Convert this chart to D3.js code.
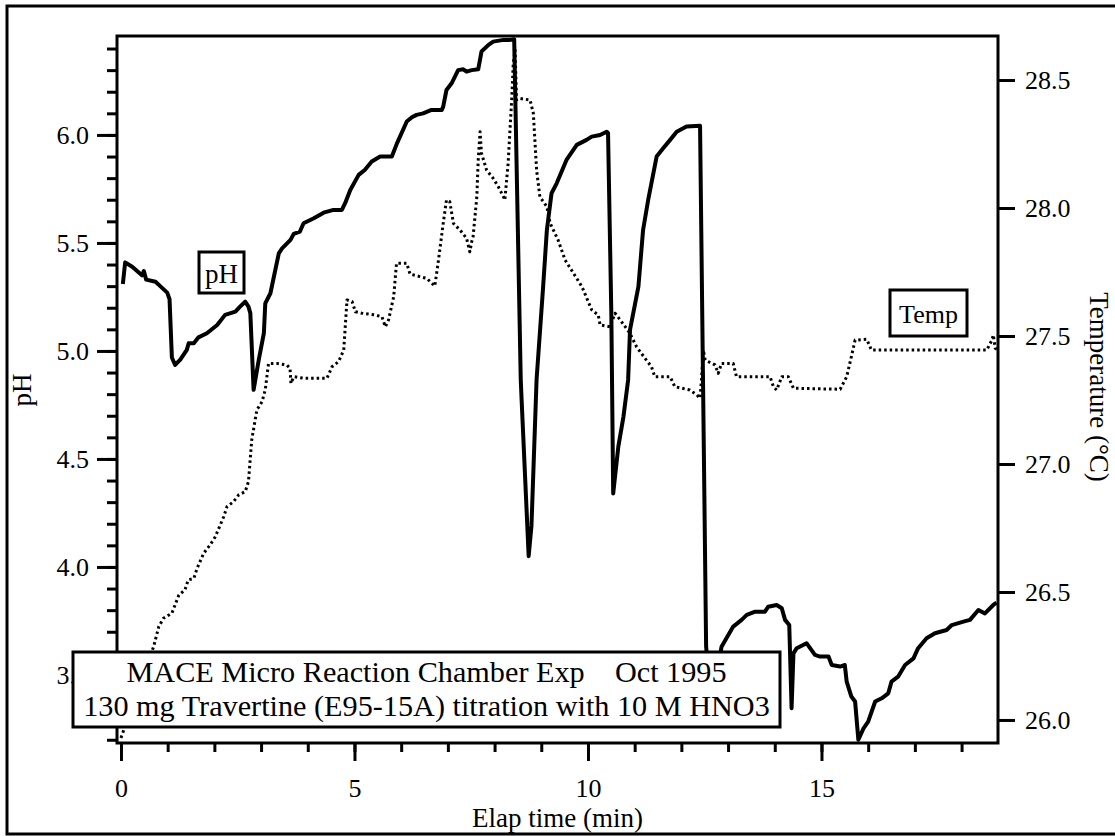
<!DOCTYPE html>
<html>
<head>
<meta charset="utf-8">
<script src="https://cdn.jsdelivr.net/npm/d3@7"></script>
<style>
  html, body { margin: 0; padding: 0; background: #fff; }
  svg { display: block; }
  text { font-family: "Liberation Serif", "Times New Roman", serif; fill: #000; }
</style>
</head>
<body>
<svg id="chart" width="1115" height="836"></svg>
<script>
// ---- data ----
const phTime = [0.04,0.09,0.24,0.45,0.49,0.54,0.74,0.84,0.99,1.04,1.09,1.16,1.27,1.41,1.45,1.56,1.66,1.84,2.06,2.23,2.45,2.55,2.66,2.73,2.77,2.84,2.95,3.06,3.09,3.20,3.38,3.45,3.63,3.70,3.83,3.91,4.13,4.34,4.55,4.73,4.80,4.91,5.09,5.22,5.37,5.55,5.80,5.91,6.12,6.23,6.33,6.47,6.65,6.87,6.90,6.97,7.08,7.22,7.33,7.40,7.51,7.65,7.72,7.87,7.97,8.19,8.33,8.42,8.56,8.58,8.73,8.79,8.90,9.04,9.12,9.22,9.33,9.54,9.76,9.97,10.08,10.26,10.40,10.43,10.50,10.54,10.65,10.76,10.86,10.90,11.08,11.18,11.29,11.47,11.61,11.76,11.90,12.11,12.40,12.53,12.65,12.86,13.11,13.29,13.40,13.58,13.79,13.86,14.04,14.15,14.22,14.31,14.36,14.40,14.47,14.68,14.86,14.97,15.15,15.22,15.40,15.50,15.54,15.64,15.72,15.79,15.90,16.00,16.15,16.29,16.43,16.50,16.64,16.79,16.97,17.07,17.25,17.43,17.68,17.79,18.04,18.18,18.36,18.50,18.68,18.75];
const phValue = [5.31,5.41,5.39,5.35,5.37,5.33,5.32,5.30,5.27,5.24,4.97,4.935,4.96,5.005,5.036,5.036,5.063,5.082,5.12,5.167,5.182,5.205,5.228,5.205,5.175,4.82,4.958,5.082,5.22,5.267,5.452,5.475,5.514,5.542,5.552,5.591,5.614,5.64,5.653,5.653,5.684,5.745,5.815,5.838,5.877,5.90,5.90,5.961,6.062,6.082,6.093,6.10,6.116,6.116,6.131,6.208,6.239,6.30,6.304,6.293,6.30,6.304,6.386,6.417,6.432,6.44,6.44,6.443,4.87,4.77,4.05,4.19,4.87,5.298,5.56,5.73,5.776,5.884,5.954,5.977,5.992,6.00,6.015,6.008,5.175,4.34,4.557,4.696,4.866,5.097,5.298,5.56,5.70,5.90,5.938,5.977,6.015,6.039,6.042,3.631,3.35,3.631,3.724,3.755,3.778,3.793,3.793,3.816,3.824,3.809,3.755,3.731,3.346,3.60,3.624,3.647,3.593,3.585,3.585,3.546,3.539,3.546,3.469,3.40,3.377,3.20,3.253,3.284,3.377,3.392,3.415,3.469,3.492,3.546,3.577,3.624,3.67,3.693,3.708,3.731,3.747,3.755,3.801,3.785,3.824,3.835];

const tempTime = [0.00,0.70,0.81,0.91,1.09,1.24,1.37,1.44,1.56,1.63,1.77,1.91,2.02,2.20,2.27,2.41,2.52,2.66,2.73,2.80,2.91,3.02,3.09,3.16,3.34,3.55,3.62,3.64,3.70,3.91,4.41,4.52,4.66,4.77,4.84,4.95,5.02,5.16,5.45,5.59,5.66,5.73,5.84,5.90,6.12,6.19,6.40,6.55,6.72,6.79,6.90,6.97,7.04,7.12,7.26,7.40,7.47,7.51,7.54,7.62,7.65,7.69,7.72,7.83,7.97,8.08,8.19,8.22,8.29,8.33,8.37,8.40,8.44,8.47,8.54,8.76,8.83,8.90,8.97,9.12,9.19,9.36,9.51,9.69,9.87,10.08,10.22,10.26,10.47,10.58,10.69,10.90,11.04,11.22,11.36,11.43,11.76,11.86,12.18,12.33,12.40,12.43,12.47,12.51,12.72,12.79,12.86,13.11,13.18,13.90,13.97,14.04,14.15,14.29,14.40,15.40,15.54,15.64,15.72,15.97,16.07,18.54,18.65,18.68,18.72,18.78];
const tempValue = [25.93,26.287,26.365,26.397,26.417,26.488,26.508,26.547,26.553,26.592,26.651,26.684,26.716,26.794,26.833,26.853,26.879,26.892,26.931,27.094,27.211,27.243,27.29,27.393,27.393,27.387,27.374,27.315,27.341,27.335,27.335,27.38,27.40,27.445,27.641,27.634,27.595,27.589,27.582,27.575,27.536,27.563,27.654,27.784,27.784,27.742,27.732,27.725,27.695,27.784,27.94,28.031,28.025,27.94,27.914,27.882,27.829,27.868,27.888,28.044,28.188,28.298,28.214,28.148,28.116,28.083,28.044,28.031,28.174,28.305,28.435,28.565,28.617,28.422,28.428,28.422,28.37,28.148,28.044,28.005,27.94,27.875,27.797,27.745,27.693,27.602,27.582,27.543,27.536,27.589,27.563,27.51,27.458,27.413,27.38,27.341,27.341,27.302,27.289,27.27,27.257,27.328,27.445,27.406,27.387,27.354,27.393,27.393,27.341,27.341,27.302,27.289,27.341,27.341,27.296,27.292,27.341,27.419,27.484,27.487,27.445,27.445,27.484,27.504,27.452,27.445];

const xTicksMajor = [0, 5, 10, 15];
const phTicksMajor = [3.5, 4.0, 4.5, 5.0, 5.5, 6.0];
const tempTicks = [26.0, 26.5, 27.0, 27.5, 28.0, 28.5];

const xLabel = "Elap time (min)";
const yLeftLabel = "pH";
const yRightLabel = "Temperature (\u00B0C)";
const noteLines = ["MACE Micro Reaction Chamber Exp    Oct 1995",
                   "130 mg Travertine (E95-15A) titration with 10 M HNO3"];

// ---- layout ----
const L = 117, R = 998, T = 36, B = 743;
const svg = d3.select("#chart");

const x = d3.scaleLinear().domain([-0.085, 18.78]).range([L, R]);
const yPH = d3.scaleLinear().domain([3.185, 6.458]).range([B, T]);
const yT = d3.scaleLinear().domain([25.91, 28.672]).range([B, T]);

// outer frame
svg.append("rect").attr("x", 7).attr("y", 6).attr("width", 1115).attr("height", 828)
  .attr("fill", "none").attr("stroke", "#000").attr("stroke-width", 3);

// clip for data
svg.append("clipPath").attr("id", "plotclip").append("rect")
  .attr("x", L).attr("y", T).attr("width", R - L).attr("height", B - T);

const g = svg.append("g").attr("clip-path", "url(#plotclip)");

const phData = phTime.map((t, i) => [t, phValue[i]]);
const tData = tempTime.map((t, i) => [t, tempValue[i]]);

g.append("path").datum(tData)
  .attr("d", d3.line().x(d => x(d[0])).y(d => yT(d[1])))
  .attr("fill", "none").attr("stroke", "#000").attr("stroke-width", 3)
  .attr("stroke-dasharray", "2.5,3").attr("stroke-linejoin", "round");

g.append("path").datum(phData)
  .attr("d", d3.line().x(d => x(d[0])).y(d => yPH(d[1])))
  .attr("fill", "none").attr("stroke", "#000").attr("stroke-width", 4)
  .attr("stroke-linejoin", "round");

// axes styling helper
function styleAxis(sel, fs) {
  sel.select(".domain").remove();
  sel.selectAll(".tick line").attr("stroke", "#000").attr("stroke-width", 3);
  sel.selectAll(".tick text").attr("font-size", fs).attr("font-family", "Liberation Serif, Times New Roman, serif");
}

// x axis
const xMinor = d3.range(0, 19, 1);
const gxm = svg.append("g").attr("transform", `translate(0,${B})`)
  .call(d3.axisBottom(x).tickValues(xMinor).tickSize(9).tickFormat(""));
styleAxis(gxm, 26);
const gx = svg.append("g").attr("transform", `translate(0,${B})`)
  .call(d3.axisBottom(x).tickValues(xTicksMajor).tickSize(18).tickPadding(18).tickFormat(d3.format("d")));
styleAxis(gx, 26);

// left axis
const phMinor = d3.range(32, 65, 1).map(v => v / 10);
const gym = svg.append("g").attr("transform", `translate(${L},0)`)
  .call(d3.axisLeft(yPH).tickValues(phMinor).tickSize(10).tickFormat(""));
styleAxis(gym, 26);
const gy = svg.append("g").attr("transform", `translate(${L},0)`)
  .call(d3.axisLeft(yPH).tickValues(phTicksMajor).tickSize(20).tickPadding(8).tickFormat(d3.format(".1f")));
styleAxis(gy, 26);

// right axis
const gyr = svg.append("g").attr("transform", `translate(${R},0)`)
  .call(d3.axisRight(yT).tickValues(tempTicks).tickSize(17).tickPadding(10).tickFormat(d3.format(".1f")));
styleAxis(gyr, 26);

// plot border lines (left, top, right, bottom)
svg.append("path")
  .attr("d", `M${L},${B}V${T}H${R}V${B}H${L}Z`)
  .attr("fill", "none").attr("stroke", "#000").attr("stroke-width", 3);

// axis titles
svg.append("text").attr("x", (L + R) / 2).attr("y", 827)
  .attr("text-anchor", "middle").attr("font-size", 27).text(xLabel);
svg.append("text").attr("transform", "translate(31,390) rotate(-90)")
  .attr("text-anchor", "middle").attr("font-size", 27).text(yLeftLabel);
svg.append("text").attr("transform", "translate(1090,387) rotate(90)")
  .attr("text-anchor", "middle").attr("font-size", 27).text(yRightLabel);

// series label boxes
function labelBox(x0, y0, w, h, txt, fs, baseline) {
  svg.append("rect").attr("x", x0).attr("y", y0).attr("width", w).attr("height", h)
    .attr("fill", "#fff").attr("stroke", "#000").attr("stroke-width", 3);
  svg.append("text").attr("x", x0 + w / 2).attr("y", baseline)
    .attr("text-anchor", "middle").attr("font-size", fs).text(txt);
}
labelBox(199, 252, 45, 41, "pH", 27, 283);
labelBox(890, 290, 77, 46, "Temp", 26, 323);

// annotation box
svg.append("rect").attr("x", 73).attr("y", 652).attr("width", 707).attr("height", 75)
  .attr("fill", "#fff").attr("stroke", "#000").attr("stroke-width", 3);
const l2 = svg.append("text").attr("x", 426.5).attr("y", 716).attr("text-anchor", "middle")
  .attr("font-size", 27).style("white-space", "pre").text(noteLines[1]);
let w2 = l2.node().getComputedTextLength();
const fs = 27 * 687 / w2;
l2.attr("font-size", fs);
svg.append("text").attr("x", 426.5).attr("y", 682).attr("text-anchor", "middle")
  .attr("font-size", fs).style("white-space", "pre").text(noteLines[0]);
</script>
</body>
</html>
